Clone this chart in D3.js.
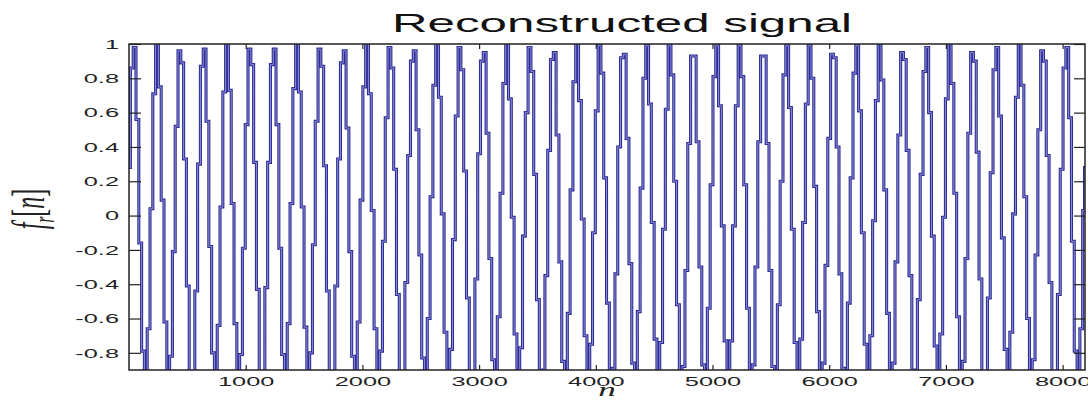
<!DOCTYPE html>
<html>
<head>
<meta charset="utf-8">
<script src="https://cdn.jsdelivr.net/npm/d3@7"></script>
<style>
  body { margin: 0; background: #fff; }
  svg { display: block; font-family: "Liberation Sans", Arial, sans-serif; }
  .tick text { fill: #222; font-size: 13px; }
  .tick line { stroke: #222; stroke-width: 1.2; }
</style>
</head>
<body>
<div class="chart"></div>
<script>

let width = 1088
let height = 402
let margin = {top: 44, right: 2, bottom: 32, left: 129}
let stretch = 1.95

// signal, one reading every 24 samples, last one at n = 8192
const sampleStep = 24
const lastSample = 8192
const signal = [
  0.28, 0.86, 0.98, 0.56, -0.16, -0.79, -1.00, -0.66, 0.04, 0.71, 1.00, 0.75, 0.09, -0.62, -0.99, -0.82, -0.21, 0.52, 0.96, 0.89, 0.33, -0.41, -0.92, -0.94, -0.44,
  0.30, 0.87, 0.97, 0.55, -0.18, -0.80, -0.99, -0.64, 0.05, 0.72, 1.00, 0.73, 0.07, -0.63, -0.99, -0.81, -0.19, 0.53, 0.97, 0.88, 0.31, -0.43, -0.93, -0.93, -0.42,
  0.31, 0.88, 0.97, 0.53, -0.19, -0.81, -0.99, -0.63, 0.07, 0.74, 1.00, 0.72, 0.05, -0.65, -0.99, -0.80, -0.17, 0.55, 0.97, 0.87, 0.29, -0.44, -0.94, -0.92, -0.41,
  0.33, 0.89, 0.96, 0.51, -0.21, -0.82, -0.99, -0.62, 0.09, 0.75, 1.00, 0.71, 0.03, -0.66, -1.00, -0.79, -0.15, 0.57, 0.98, 0.86, 0.27, -0.46, -0.94, -0.91, -0.39,
  0.35, 0.90, 0.96, 0.50, -0.23, -0.83, -0.99, -0.60, 0.11, 0.76, 1.00, 0.69, 0.01, -0.68, -1.00, -0.78, -0.14, 0.58, 0.98, 0.85, 0.26, -0.48, -0.95, -0.91, -0.37,
  0.36, 0.90, 0.95, 0.48, -0.25, -0.84, -0.98, -0.59, 0.13, 0.77, 1.00, 0.68, -0.01, -0.69, -1.00, -0.77, -0.12, 0.60, 0.98, 0.84, 0.24, -0.49, -0.95, -0.90, -0.35,
  0.38, 0.91, 0.95, 0.47, -0.27, -0.85, -0.98, -0.57, 0.15, 0.78, 1.00, 0.67, -0.02, -0.70, -1.00, -0.75, -0.10, 0.61, 0.99, 0.83, 0.22, -0.51, -0.96, -0.89, -0.34,
  0.40, 0.92, 0.94, 0.45, -0.28, -0.86, -0.97, -0.56, 0.16, 0.80, 0.99, 0.65, -0.04, -0.72, -1.00, -0.74, -0.08, 0.62, 0.99, 0.82, 0.20, -0.52, -0.97, -0.88, -0.32,
  0.42, 0.93, 0.93, 0.43, -0.30, -0.87, -0.97, -0.54, 0.18, 0.81, 0.99, 0.64, -0.06, -0.73, -1.00, -0.73, -0.06, 0.64, 0.99, 0.81, 0.18, -0.54, -0.97, -0.87, -0.30,
  0.43, 0.93, 0.93, 0.42, -0.32, -0.88, -0.97, -0.52, 0.20, 0.82, 0.99, 0.63, -0.08, -0.74, -1.00, -0.72, -0.04, 0.65, 0.99, 0.80, 0.17, -0.56, -0.97, -0.86, -0.29,
  0.45, 0.94, 0.92, 0.40, -0.34, -0.89, -0.96, -0.51, 0.22, 0.83, 0.99, 0.61, -0.10, -0.75, -1.00, -0.70, -0.03, 0.67, 1.00, 0.79, 0.15, -0.57, -0.98, -0.86, -0.27,
  0.47, 0.95, 0.91, 0.38, -0.35, -0.90, -0.96, -0.49, 0.24, 0.84, 0.98, 0.60, -0.12, -0.76, -1.00, -0.69, -0.01, 0.68, 1.00, 0.77, 0.13, -0.59, -0.98, -0.85, -0.25,
  0.48, 0.95, 0.90, 0.37, -0.37, -0.91, -0.95, -0.48, 0.25, 0.85, 0.98, 0.58, -0.13, -0.78, -1.00, -0.68, 0.01, 0.69, 1.00, 0.76, 0.11, -0.60, -0.99, -0.84, -0.23,
  0.50, 0.96, 0.90, 0.35, -0.39, -0.91, -0.94, -0.46, 0.27, 0.86, 0.98, 0.57, -0.15, -0.79, -1.00, -0.66, 0.03,
  0.28
]

const xTicks = [1000, 2000, 3000, 4000, 5000, 6000, 7000, 8000]
const yTicks = [-0.8, -0.6, -0.4, -0.2, 0, 0.2, 0.4, 0.6, 0.8, 1]
const yTickLabels = ["-0.8", "-0.6", "-0.4", "-0.2", "0", "0.2", "0.4", "0.6", "0.8", "1"]
const xDomain = [0, 8192]
const yDomain = [-0.9, 1]

drawChart()

function drawChart() {
  let innerW = width - margin.left - margin.right - 1
  let innerH = height - margin.top - margin.bottom

  let x = d3.scaleLinear().domain(xDomain).range([0, innerW])
  let y = d3.scaleLinear().domain(yDomain).range([innerH, 0])

  let svg = d3.select(".chart").append("svg")
    .attr("width", width)
    .attr("height", height)

  let g = svg.append("g")
    .attr("transform", `translate(${margin.left},${margin.top})`)

  svg.append("defs").append("clipPath")
    .attr("id", "plot-clip")
    .append("rect")
    .attr("width", innerW)
    .attr("height", innerH)

  let points = signal.map((v, i) => ({n: Math.min(i * sampleStep, lastSample), v: v}))

  let line = d3.line()
    .x(d => x(d.n))
    .y(d => y(d.v))
    .curve(d3.curveStep)

  let plot = g.append("g").attr("clip-path", "url(#plot-clip)")

  plot.append("path")
    .datum(points)
    .attr("d", line)
    .attr("fill", "none")
    .attr("stroke", "#2e2e96")
    .attr("stroke-width", 3.1)

  plot.append("path")
    .datum(points)
    .attr("d", line)
    .attr("fill", "none")
    .attr("stroke", "#8e8ed6")
    .attr("stroke-width", 1)

  // axes, matlab style: ticks inside on all four sides
  g.append("g")
    .attr("class", "axis-left")
    .call(d3.axisLeft(y).tickValues(yTicks).tickSize(-12).tickPadding(10)
      .tickFormat((d, i) => yTickLabels[i]))

  g.append("g")
    .attr("transform", `translate(${innerW},0)`)
    .call(d3.axisRight(y).tickValues(yTicks).tickSize(-11).tickFormat(""))

  g.append("g")
    .attr("class", "axis-bottom")
    .attr("transform", `translate(0,${innerH})`)
    .call(d3.axisBottom(x).tickValues(xTicks).tickSize(-5).tickPadding(7)
      .tickFormat(d3.format("d")))

  g.append("g")
    .call(d3.axisTop(x).tickValues(xTicks).tickSize(-5).tickFormat(""))

  g.selectAll(".domain").remove()

  g.append("rect")
    .attr("width", innerW)
    .attr("height", innerH)
    .attr("fill", "none")
    .attr("stroke", "#222")
    .attr("stroke-width", 1.5)

  // the picture is stretched sideways, so widen the labels the same way
  g.selectAll(".tick text").each(function() {
    let len = this.getComputedTextLength()
    if (len > 0) {
      d3.select(this)
        .attr("textLength", len * stretch)
        .attr("lengthAdjust", "spacingAndGlyphs")
    }
  })

  svg.append("text")
    .attr("x", 622)
    .attr("y", 32)
    .attr("text-anchor", "middle")
    .attr("font-size", 26)
    .attr("fill", "#111")
    .attr("textLength", 460)
    .attr("lengthAdjust", "spacingAndGlyphs")
    .text("Reconstructed signal")

  let ylab = svg.append("text")
    .attr("transform", `translate(44,209) scale(${stretch},1) rotate(-90)`)
    .attr("text-anchor", "middle")
    .attr("font-family", "'Liberation Serif', 'DejaVu Serif', serif")
    .attr("font-style", "italic")
    .attr("font-size", 24)
    .attr("fill", "#222")
  ylab.append("tspan").text("f")
  ylab.append("tspan").attr("font-size", 15).attr("dy", 5).text("r")
  ylab.append("tspan").attr("dy", -5).attr("font-style", "normal").text("[")
  ylab.append("tspan").text("n")
  ylab.append("tspan").attr("font-style", "normal").text("]")

  svg.append("text")
    .attr("transform", `translate(${margin.left + innerW / 2},396) scale(${stretch},1)`)
    .attr("text-anchor", "middle")
    .attr("font-family", "'Liberation Serif', 'DejaVu Serif', serif")
    .attr("font-style", "italic")
    .attr("font-size", 18)
    .attr("fill", "#222")
    .text("n")
}
</script>
</body>
</html>
